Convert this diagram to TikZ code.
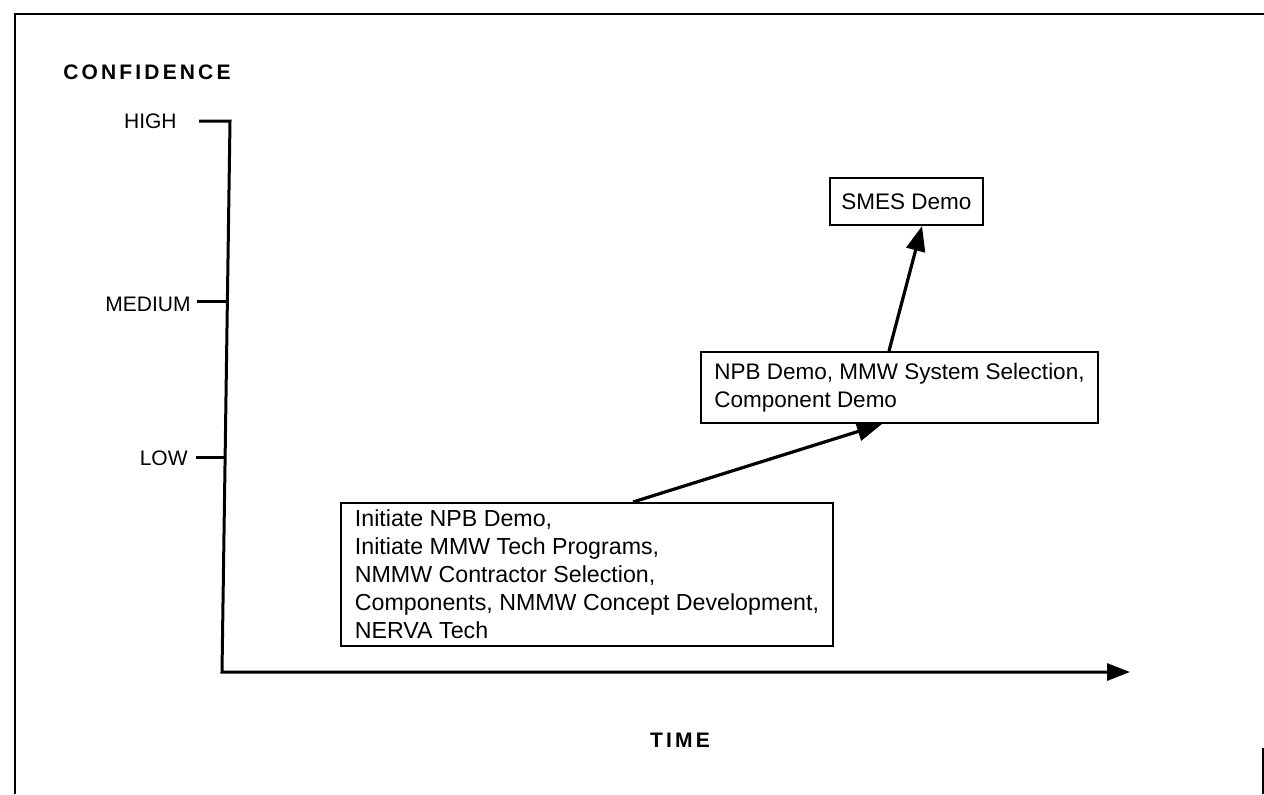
\documentclass[tikz,border=0pt]{standalone}
\usepackage{fontspec}
\setmainfont{Liberation Sans}
\usetikzlibrary{arrows.meta,positioning}
\tikzset{
  axis/.style={line width=1.5pt},
  level/.style={font=\fontsize{10.5}{12}\selectfont, inner sep=0pt},
  heading/.style={font=\fontsize{10.5}{12}\selectfont\bfseries\addfontfeature{LetterSpace=15}, inner sep=0pt},
  stage/.style={draw, line width=1pt, align=left, inner xsep=3pt, inner ysep=2pt,
    font=\fontsize{11.25}{14}\selectfont},
  link/.style={line width=1.6pt, -{Triangle[length=12.5pt,width=9.5pt]}},
}
\begin{document}
\begin{tikzpicture}[x=0.5pt,y=-0.5pt]
\useasboundingbox (0,0) rectangle (1264,794);
% frame
\draw[line width=1pt] (1264,14) -- (15,14) -- (15,794);
\draw[line width=0.8pt] (1263,748) -- (1263,794);
% axes
\coordinate (hightick) at (199,121);
\coordinate (top) at (230,121);
\coordinate (origin) at (222,672);
\coordinate (timeend) at (1130,672);
\coordinate (medtick) at (197,301);
\coordinate (medaxis) at (227.4,301);
\coordinate (lowtick) at (196,457);
\coordinate (lowaxis) at (225.1,457);
\draw[axis, -{Triangle[length=11.5pt,width=8.5pt]}] (hightick) -- (top) -- (origin) -- (timeend);
\draw[axis] (medtick) -- (medaxis);
\draw[axis] (lowtick) -- (lowaxis);
\node[heading] (confidence) at (147,72) {CONFIDENCE};
\node[heading] (time) at (680,740) {TIME};
\node[level, anchor=east] (high) at (177,121) {HIGH};
\node[level, anchor=east] (medium) at (191,304) {MEDIUM};
\node[level, anchor=east] (low) at (188,458) {LOW};
% stages
\node[stage, anchor=north west, font=\fontsize{11.6}{14}\selectfont,
  minimum width=246pt, minimum height=71.5pt] (initiate) at (340,502)
  {Initiate NPB Demo,\\
   Initiate MMW Tech Programs,\\
   NMMW Contractor Selection,\\
   Components, NMMW Concept Development,\\
   NERVA Tech};
\node[stage, anchor=north west, inner ysep=5.5pt, minimum width=198.5pt] (npb) at (700,351)
  {NPB Demo, MMW System Selection,\\
   Component Demo};
\node[stage, anchor=north west, align=center, minimum width=76.5pt, minimum height=23.5pt] (smes) at (829,177)
  {SMES Demo};
\draw[link] ([xshift=146.5pt]initiate.north west) -- ([xshift=91pt]npb.south west);
\draw[link] ([xshift=94.5pt]npb.north west) -- ([xshift=46.5pt]smes.south west);
\end{tikzpicture}
\end{document}
